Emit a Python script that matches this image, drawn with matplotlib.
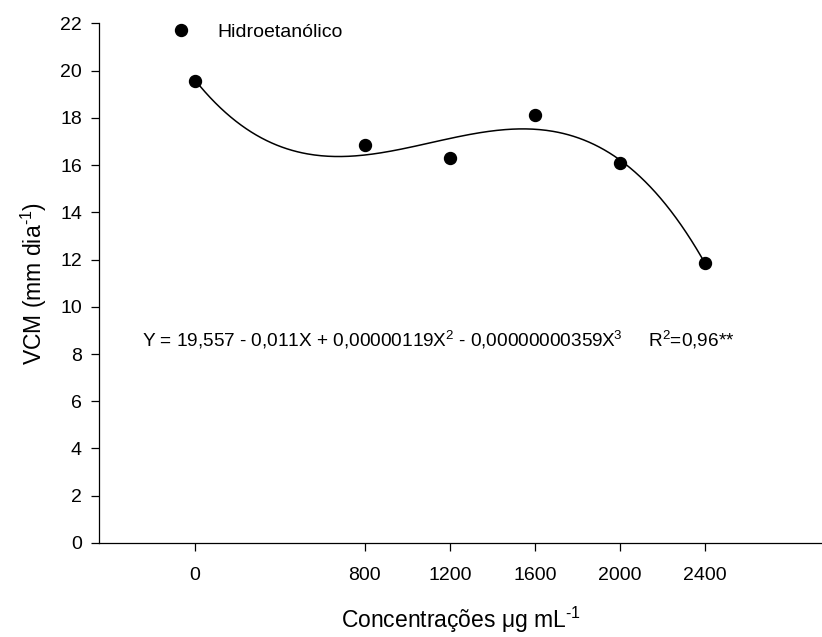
import matplotlib
matplotlib.use("Agg")
import matplotlib.pyplot as plt
import numpy as np

plt.rcParams["font.family"] = ["Liberation Sans", "DejaVu Sans"]
plt.rcParams["mathtext.fontset"] = "custom"
plt.rcParams["mathtext.rm"] = "Liberation Sans"
plt.rcParams["mathtext.it"] = "Liberation Sans"
plt.rcParams["mathtext.default"] = "regular"
plt.rcParams["axes.unicode_minus"] = False

# values
concentrations = [0, 800, 1200, 1600, 2000, 2400]
vcm = [19.56, 16.85, 16.29, 18.12, 16.07, 11.84]
x_ticks = [0, 800, 1200, 1600, 2000, 2400]
y_ticks = list(range(0, 23, 2))
series_label = "Hidroetanólico"
equation = ("Y = 19,557 - 0,011X + 0,00000119X$^2$ - 0,00000000359X$^3$"
            "     R$^2$=0,96**")


def main() -> None:
    fig = plt.figure(figsize=(8.22, 6.37), dpi=100)
    ax = fig.add_axes([0.1208, 0.1476, 0.8792, 0.8158])

    x = np.asarray(concentrations, dtype=float)
    y = np.asarray(vcm, dtype=float)
    coeffs = np.polyfit(x, y, 3)
    xs = np.linspace(x.min(), x.max(), 300)
    ax.plot(xs, np.polyval(coeffs, xs), color="black", linewidth=1.1, zorder=2)
    ax.plot(x, y, "o", color="black", markersize=8.6, label=series_label, zorder=3)

    ax.set_xlim(-450, 2951)
    ax.set_ylim(0, 22)
    ax.set_xticks(x_ticks)
    ax.set_yticks(y_ticks)
    ax.spines["top"].set_visible(False)
    ax.spines["right"].set_visible(False)
    for side in ("left", "bottom"):
        ax.spines[side].set_linewidth(0.9)
    ax.tick_params(direction="out", length=5.5, width=0.9, labelsize=14, pad=7)
    ax.tick_params(axis="x", pad=12)

    ax.set_xlabel("Concentrações μg mL$^{\\text{-1}}$", fontsize=16.5, labelpad=15)
    ax.set_ylabel("VCM (mm dia$^{\\text{-1}}$)", fontsize=16.5, labelpad=8)

    ax.text(-250, 8.6, equation, fontsize=13.7, ha="left", va="center")

    ax.legend(loc="center left", bbox_to_anchor=(171 / 822, 1 - 32 / 637),
              bbox_transform=fig.transFigure, frameon=False, fontsize=14,
              handlelength=1.0, handletextpad=1.36, borderpad=0, borderaxespad=0)

    fig.savefig("out.png", dpi=100)
    plt.close(fig)


if __name__ == "__main__":
    main()
